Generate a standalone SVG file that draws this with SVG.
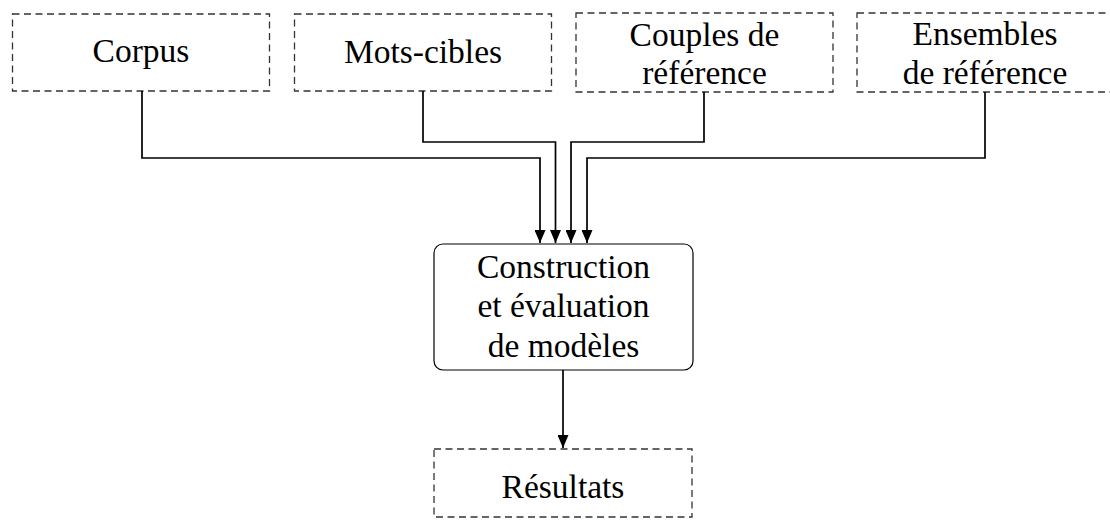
<svg xmlns="http://www.w3.org/2000/svg" width="1110" height="527" viewBox="0 0 1110 527">
  <style>
    .io { fill: none; stroke: #333; stroke-width: 1.3; stroke-dasharray: 7 4.5; }
    .proc { fill: none; stroke: #000; stroke-width: 1.2; }
    .lbl { font-family: "Liberation Serif", "Times New Roman", serif; font-size: 33.5px; fill: #000; text-anchor: middle; }
    .wire { fill: none; stroke: #000; stroke-width: 1.7; }
  </style>
  <defs>
    <!-- arrowhead drawn along +x so orient="auto" follows the wire -->
    <marker id="head" viewBox="0 0 13 11" refX="13" refY="5.5" markerWidth="13" markerHeight="11" markerUnits="userSpaceOnUse" orient="auto">
      <path d="M0,0 L13,5.5 L0,11 Z" fill="#000"/>
    </marker>
  </defs>
  <rect width="1110" height="527" fill="#fff"/>

  <g id="corpus">
    <rect class="io" x="12.5" y="14" width="257" height="77"/>
    <text class="lbl" x="141" y="62">Corpus</text>
  </g>
  <g id="mots-cibles">
    <rect class="io" x="294.5" y="14" width="257" height="77"/>
    <text class="lbl" x="423" y="63">Mots-cibles</text>
  </g>
  <g id="couples">
    <rect class="io" x="576" y="13" width="257" height="79"/>
    <text class="lbl" x="704.5" y="46">Couples de</text>
    <text class="lbl" x="704.5" y="84">référence</text>
  </g>
  <g id="ensembles">
    <rect class="io" x="857" y="13" width="257" height="79"/>
    <text class="lbl" x="985" y="45">Ensembles</text>
    <text class="lbl" x="985" y="84">de référence</text>
  </g>
  <g id="construction">
    <rect class="proc" x="434" y="244" width="259" height="126" rx="9" ry="9"/>
    <text class="lbl" x="563.5" y="278">Construction</text>
    <text class="lbl" x="563.5" y="317">et évaluation</text>
    <text class="lbl" x="563.5" y="357">de modèles</text>
  </g>
  <g id="resultats">
    <rect class="io" x="434" y="449" width="258" height="68"/>
    <text class="lbl" x="563" y="498">Résultats</text>
  </g>

  <g id="connectors">
    <path class="wire" d="M142,91 V158 H540 V243" marker-end="url(#head)"/>
    <path class="wire" d="M423,91 V142 H555.5 V243" marker-end="url(#head)"/>
    <path class="wire" d="M704,92 V142 H571 V243" marker-end="url(#head)"/>
    <path class="wire" d="M985,92 V158 H587 V243" marker-end="url(#head)"/>
    <path class="wire" d="M563,370 V448" marker-end="url(#head)"/>
  </g>
</svg>
